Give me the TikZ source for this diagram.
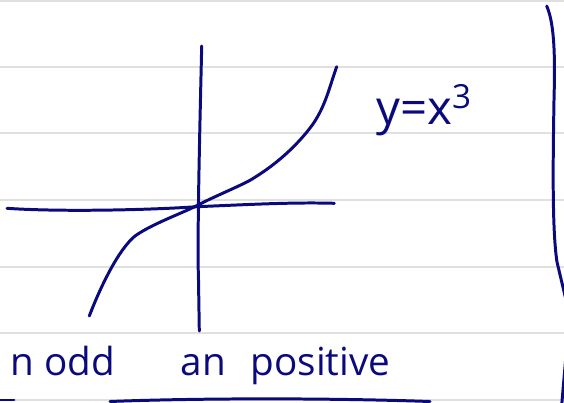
\documentclass[tikz,border=0pt]{standalone}
\usepackage{fontspec}
\setmainfont{Open Sans}
\usetikzlibrary{positioning}

\definecolor{ink}{RGB}{10,10,125}
\definecolor{rule}{RGB}{224,224,224}

\begin{document}
\begin{tikzpicture}[
        x=0.02cm, y=-0.02cm,
        ruling/.style={draw=rule, line width=1.1pt},
        pen/.style={draw=ink, line width=1.7pt, line cap=round, line join=round},
        note/.style={inner sep=0pt, anchor=base west, text=ink, font=\fontsize{22}{24}\selectfont}
    ]
    \useasboundingbox (0,0) rectangle (564,402);

    % --- RULED PAPER ---
    \foreach \ly in {1,66.7,133.3,200,266.7,333.3,400}
        \draw [ruling] (0,\ly) -- (564,\ly);

    % --- AXES ---
    \coordinate (ytop) at (201.7,46);
    \coordinate (ybot) at (199.3,331);
    \coordinate (xleft) at (7,208.3);
    \coordinate (xright) at (334.3,203.3);
    \draw [pen] (ytop) .. controls (200,120) and (197,240) .. (198.5,280) -- (ybot);
    \draw [pen] (xleft) .. controls (60,212) and (150,210) .. (196.7,206.7)
        .. controls (240,205) and (290,202) .. (xright);

    % --- CURVE ---
    \coordinate (cstart) at (89.3,316);
    \coordinate (cend) at (336.7,66.7);
    \draw [pen] (cstart) .. controls (100,288) and (118,250) .. (135,236)
        .. controls (152,224) and (178,215) .. (196.7,205.7)
        .. controls (215,196) and (245,184) .. (253.3,178.3)
        .. controls (280,162) and (300,142) .. (313,124)
        .. controls (326,105) and (330,85) .. (cend);

    % --- LABEL ---
    \node (fn) [note, font=\fontsize{27}{29}\selectfont] at (376,124) {y=x\textsuperscript{3}};

    % --- BRACKET ---
    \draw [pen] (546.7,6) .. controls (555,25) and (555,60) .. (554,100)
        .. controls (553,160) and (552,230) .. (557,262) -- (566,300);
    \draw [pen] (566,355) -- (561.7,405);

    % --- NOTES ---
    \node (odd) [note] at (10,375) {n odd};
    \node (pos) [note, right=1.3cm of odd.base east, anchor=base west] {an\hspace{0.5cm}positive};

    % --- UNDERLINE ---
    \draw [pen] (-5,400) -- (14,400);
    \draw [pen] (110,401.5) .. controls (200,398) and (330,398) .. (430,401.5);
\end{tikzpicture}
\end{document}
